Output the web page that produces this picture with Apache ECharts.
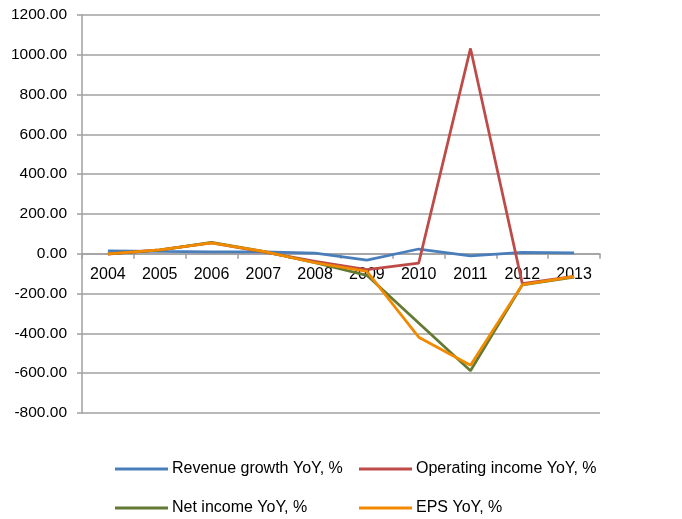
<!DOCTYPE html>
<html><head><meta charset="utf-8">
<script src="https://cdn.jsdelivr.net/npm/echarts@6/dist/echarts.min.js"></script>
<style>html,body{margin:0;padding:0;background:#fff}#c{width:682px;height:519px}</style>
</head><body><div id="c"></div>
<script>
const years = ['2004','2005','2006','2007','2008','2009','2010','2011','2012','2013'];
const revenue = [15, 12, 10, 10, 3, -32, 24, -10, 7, 5];
const operating = [-2, 20, 55, 10, -38, -80, -47, 1032, -150, -114];
const netIncome = [0, 18, 57, 12, -45, -108, -348, -588, -156, -117];
const eps = [0, 20, 55, 12, -45, -88, -419, -560, -155, -115];
const names = ['Revenue growth YoY, %','Operating income YoY, %','Net income YoY, %','EPS YoY, %'];
const colors = ['#4A7EBB','#BE4B48','#627A33','#F28A00'];
const font = 'Liberation Sans, Arial, sans-serif';
const chart = echarts.init(document.getElementById('c'));
const legendPos = [[115,461],[359,461],[115,500],[359,500]];
const yMin = -800, yMax = 1200, gridTop = 15, gridBottom = 106;
const plotH = 519 - gridTop - gridBottom;
const zeroOffset = plotH * (0 - yMin) / (yMax - yMin); // px from bottom to zero line
chart.setOption({
  animation:false,
  color: colors,
  grid:{left:82,right:82,top:gridTop,bottom:gridBottom,containLabel:false},
  legend: legendPos.map((p,i)=>({
    left:p[0], top:p[1], padding:0, data:[names[i]], itemWidth:53, itemHeight:16, itemGap:0,
    icon:'path://M0,7L53,7L53,10L0,10Z',
    textStyle:{fontFamily:font,fontSize:16,color:'#000',padding:[0,0,0,-1]},
    selectedMode:false
  })),
  xAxis:{type:'category',data:years,boundaryGap:true,
    axisLine:{onZero:true,lineStyle:{color:'#A0A0A0',width:1.5}},
    axisTick:{show:true,length:5,inside:false,lineStyle:{color:'#A0A0A0',width:1.5}},
    axisLabel:{fontFamily:font,fontSize:16,color:'#000',margin:13}},
  yAxis:{type:'value',min:yMin,max:yMax,interval:200,
    axisLine:{show:true,lineStyle:{color:'#A0A0A0',width:1.5}},
    axisTick:{show:true,length:5,lineStyle:{color:'#A0A0A0',width:1.5}},
    splitLine:{lineStyle:{color:'#A0A0A0',width:1.5}},
    axisLabel:{fontFamily:font,fontSize:15.5,color:'#000',margin:15,formatter:v=>v.toFixed(2)}},
  series:[revenue,operating,netIncome,eps].map((d,i)=>({
    name:names[i],type:'line',data:d,showSymbol:false,symbol:'none',
    lineStyle:{width:2.75,color:colors[i]},itemStyle:{color:colors[i]}
  }))
});
// If the category labels stayed at the grid bottom instead of following the zero line, shift them there.
const lblY = chart.convertToPixel({yAxisIndex:0}, 0);
let labelsAtBottom = false;
chart.getZr().storage.getDisplayList(true).forEach(el=>{
  if (el.style && el.style.text === '2004') {
    const r = el.getBoundingRect(); const m = el.getComputedTransform ? el.getComputedTransform() : null;
    let y = r.y; if (m) y = r.y * m[3] + m[5];
    if (y > lblY + 60) labelsAtBottom = true;
  }
});
if (labelsAtBottom) {
  chart.setOption({xAxis:{axisLabel:{margin:13 - zeroOffset}}});
}
</script></body></html>
